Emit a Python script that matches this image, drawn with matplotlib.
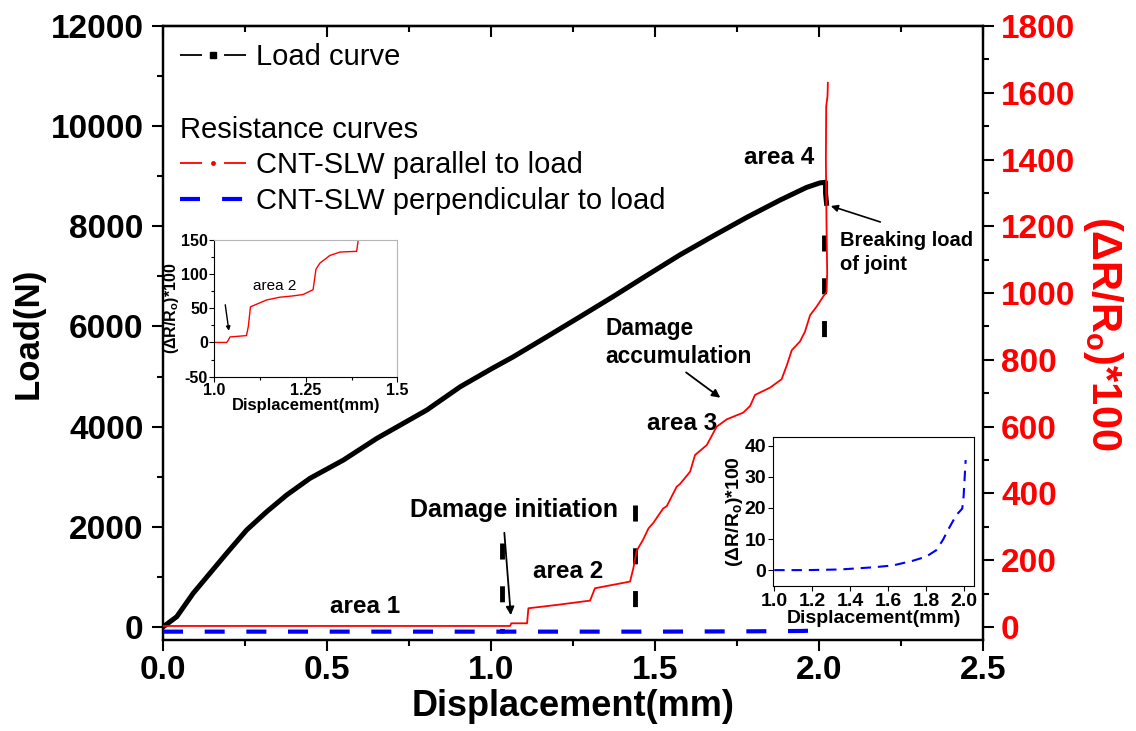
import matplotlib
matplotlib.use("Agg")
import matplotlib.pyplot as plt
from matplotlib.lines import Line2D
from matplotlib.ticker import MultipleLocator, FixedLocator, FormatStrFormatter

plt.rcParams['font.family'] = ['Liberation Sans', 'DejaVu Sans']
plt.rcParams['font.weight'] = 'bold'
plt.rcParams['axes.labelweight'] = 'bold'
plt.rcParams['axes.unicode_minus'] = False
plt.rcParams['mathtext.fontset'] = 'custom'
plt.rcParams['mathtext.rm'] = 'Liberation Sans'
plt.rcParams['mathtext.bf'] = 'Liberation Sans:bold'

# ---- load curve (N) vs displacement (mm) ----
load_x = [0.0, 0.042, 0.092, 0.143, 0.194, 0.255, 0.316, 0.377, 0.448, 0.550, 0.652,
          0.804, 0.906, 1.000, 1.068, 1.170, 1.271, 1.373, 1.475, 1.576, 1.678, 1.780,
          1.881, 1.962, 2.003, 2.020, 2.020, 2.023]
load_y = [0, 206, 673, 1072, 1471, 1936, 2301, 2635, 2968, 3333, 3766,
          4331, 4796, 5150, 5395, 5794, 6193, 6600, 7020, 7430, 7810, 8180,
          8523, 8777, 8868, 8880, 8660, 8460]

# ---- CNT-SLW parallel to load, (dR/Ro)*100 ----
par_x = [0.0, 0.5, 1.0, 1.058, 1.062, 1.110, 1.114, 1.20, 1.302, 1.317, 1.424, 1.434,
         1.444, 1.464, 1.480, 1.495, 1.525, 1.536, 1.566, 1.576, 1.607, 1.622, 1.658,
         1.688, 1.719, 1.769, 1.790, 1.805, 1.851, 1.886, 1.902, 1.917, 1.942, 1.957,
         1.973, 1.993, 2.013, 2.023, 2.025, 2.023, 2.021, 2.022, 2.026, 2.027]
par_y = [3, 3, 3, 3, 11, 11, 56, 66, 79, 116, 136, 176,
         228, 262, 295, 312, 355, 362, 420, 428, 465, 515, 545,
         600, 622, 642, 662, 695, 717, 742, 784, 829, 855, 884,
         934, 960, 990, 1004, 1060, 1200, 1400, 1560, 1590, 1630]

# ---- CNT-SLW perpendicular to load ----
perp_x = [0.0, 0.5, 1.0, 1.5, 1.8, 1.95, 2.02]
perp_y = [-14, -14, -14, -14, -13, -12, -9]

# ---- area boundaries (black dashed marks) ----
bound_x = [1.034, 1.439, 2.015]
bound_lo = [-120, 339, 5729]
bound_hi = [1677, 2435, 7824]

# ---- inset 1: zoom on area 2 ----
ins1_x = [1.0, 1.034, 1.038, 1.043, 1.088, 1.093, 1.099, 1.143, 1.179, 1.216, 1.243,
          1.270, 1.278, 1.289, 1.316, 1.344, 1.389, 1.393, 1.395]
ins1_y = [0, 0, 3, 8, 10, 23, 52, 62, 66, 68, 70,
          77, 107, 116, 127, 132, 133, 148, 160]

# ---- inset 2: perpendicular curve ----
ins2_x = [1.0, 1.17, 1.346, 1.521, 1.626, 1.73, 1.80, 1.854, 1.889, 1.925, 1.96, 1.991,
          1.998, 2.009]
ins2_y = [0, 0, 0.2, 0.9, 1.5, 3.0, 4.3, 6.4, 9.7, 13.9, 17.7, 19.8, 23.6, 35.4]

RLABEL = r'($\Delta$R/R$\mathregular{_o}$)*100'

fig = plt.figure(figsize=(11.36, 7.31), dpi=100, facecolor='white')
ax = fig.add_axes([0.1435, 0.1245, 0.7218, 0.8399])
ax2 = ax.twinx()

ax.plot(load_x, load_y, color='k', lw=3.6, zorder=3)
for bx, lo, hi in zip(bound_x, bound_lo, bound_hi):
    ax.plot([bx, bx], [hi, lo], color='k', lw=3.5, ls=(0, (3.3, 5.5)), zorder=4)
ax2.plot(par_x, par_y, color='red', lw=1.3, zorder=3)
ax2.plot(perp_x, perp_y, color='blue', lw=3, ls=(0, (4.8, 5.2)), zorder=3)

ax.set_xlim(0, 2.5)
ax.set_ylim(-260, 12000)
ax2.set_ylim(-39, 1800)

ax.xaxis.set_major_locator(MultipleLocator(0.5))
ax.xaxis.set_minor_locator(MultipleLocator(0.25))
ax.yaxis.set_major_locator(MultipleLocator(2000))
ax.yaxis.set_minor_locator(MultipleLocator(1000))
ax2.yaxis.set_major_locator(MultipleLocator(200))
ax2.yaxis.set_minor_locator(MultipleLocator(100))
ax.xaxis.set_major_formatter(FormatStrFormatter('%.1f'))

ax.tick_params(axis='x', which='both', direction='out', width=1.5, labelsize=24, pad=3)
ax.tick_params(axis='y', which='both', direction='out', width=1.5, labelsize=24, pad=6)
ax.tick_params(which='major', length=8)
ax.tick_params(which='minor', length=4.5)
ax2.tick_params(axis='y', which='both', direction='out', width=1.5, labelsize=24,
                labelcolor='red', pad=5)
ax2.tick_params(which='major', length=8)
ax2.tick_params(which='minor', length=4.5)
sec = ax.secondary_xaxis('top')
sec.xaxis.set_major_locator(MultipleLocator(0.5))
sec.xaxis.set_minor_locator(MultipleLocator(0.25))
sec.tick_params(which='both', direction='in', width=1.5, labeltop=False)
sec.tick_params(which='major', length=8)
sec.tick_params(which='minor', length=4.5)
for a in (ax, ax2, sec):
    for s in a.spines.values():
        s.set_linewidth(1.6)

ax.set_xlabel('Displacement(mm)', fontsize=26, labelpad=2)
ax.set_ylabel('Load(N)', fontsize=25, labelpad=4)
ax2.set_ylabel(RLABEL, fontsize=30, color='red', rotation=270, labelpad=36)

# legend
h_load = Line2D([], [], color='k', lw=1.3, ls=(0, (12.2, 12.2)), marker='s', ms=4.5)
h_blank = Line2D([], [], color='none')
h_par = Line2D([], [], color='red', lw=1.3, ls=(0, (12.2, 12.2)), marker='o', ms=2.5)
h_perp = Line2D([], [], color='blue', lw=3, ls=(0, (4.8, 5.3)))
ax.legend([h_load, h_blank, h_blank, h_par, h_perp],
          ['Load curve', ' ', ' ', 'CNT-SLW parallel to load', 'CNT-SLW perpendicular to load'],
          loc='upper left', bbox_to_anchor=(0.0207, 0.972), frameon=False,
          prop={'size': 21, 'weight': 'normal'}, handlelength=2.25, handletextpad=0.34,
          labelspacing=0.27, numpoints=1, borderpad=0, borderaxespad=0)
ax.text(0.0207, 0.8306, 'Resistance curves', transform=ax.transAxes, fontsize=21,
        fontweight='normal', va='center', ha='left')

# annotations
ax.text(0.616, 399, 'area 1', fontsize=17.5, ha='center', va='center')
ax.text(1.070, 2335, 'Damage initiation', fontsize=18, ha='center', va='center')
ax.annotate('', xy=(1.061, 180), xytext=(1.040, 1936),
            arrowprops=dict(arrowstyle='-|>', color='k', lw=1.3, mutation_scale=12))
ax.text(1.235, 1098, 'area 2', fontsize=17.5, ha='center', va='center')
ax.text(1.582, 4072, 'area 3', fontsize=17.5, ha='center', va='center')
ax.text(1.348, 5679, 'Damage\naccumulation', fontsize=16.4, ha='left', va='center',
        linespacing=1.25)
ax.annotate('', xy=(1.706, 4545), xytext=(1.588, 5116),
            arrowprops=dict(arrowstyle='-|>', color='k', lw=1.3, mutation_scale=12))
ax.text(1.878, 9381, 'area 4', fontsize=17.5, ha='center', va='center')
ax.text(2.064, 7475, 'Breaking load\nof joint', fontsize=14.5, ha='left', va='center',
        linespacing=1.3)
ax.annotate('', xy=(2.028, 8423), xytext=(2.195, 8070),
            arrowprops=dict(arrowstyle='-|>', color='k', lw=1.2, mutation_scale=10))

# inset 1
ins1 = fig.add_axes([0.1886, 0.4847, 0.1611, 0.1874])
ins1.plot(ins1_x, ins1_y, color='red', lw=1)
ins1.set_xlim(1.0, 1.5)
ins1.set_ylim(-50, 150)
ins1.xaxis.set_major_locator(FixedLocator([1.0, 1.25, 1.5]))
ins1.set_xticklabels(['1.0', '1.25', '1.5'])
ins1.xaxis.set_minor_locator(MultipleLocator(0.125))
ins1.yaxis.set_major_locator(MultipleLocator(50))
ins1.yaxis.set_minor_locator(MultipleLocator(25))
ins1.tick_params(which='both', direction='out', labelsize=11.5, pad=1, width=0.8)
ins1.tick_params(which='major', length=3.5)
ins1.tick_params(which='minor', length=2)
ins1.spines['top'].set_color('#b5b5b5')
ins1.spines['right'].set_color('#b5b5b5')
ins1.set_xlabel('Displacement(mm)', fontsize=12, labelpad=0)
ins1.set_ylabel(RLABEL, fontsize=11.5, labelpad=0)
ins1.annotate('', xy=(1.041, 13), xytext=(1.029, 59),
              arrowprops=dict(arrowstyle='-|>', color='k', lw=1.0, mutation_scale=6))
ins1.text(1.166, 82, 'area 2', fontsize=11, fontweight='normal', ha='center', va='center')

# inset 2
ins2 = fig.add_axes([0.6807, 0.1984, 0.1767, 0.2042])
ins2.plot(ins2_x, ins2_y, color='blue', lw=1.5, ls=(0, (5, 3.3)))
ins2.set_xlim(0.995, 2.053)
ins2.set_ylim(-5.1, 42.9)
ins2.xaxis.set_major_locator(MultipleLocator(0.2))
ins2.xaxis.set_major_formatter(FormatStrFormatter('%.1f'))
ins2.yaxis.set_major_locator(MultipleLocator(10))
ins2.tick_params(which='both', direction='out', labelsize=14, pad=1.5, length=3.5, width=0.8)
ins2.set_xlabel('Displacement(mm)', fontsize=14, labelpad=0)
ins2.set_ylabel(RLABEL, fontsize=14, labelpad=0)

fig.savefig('out.png', dpi=100, facecolor='white')
